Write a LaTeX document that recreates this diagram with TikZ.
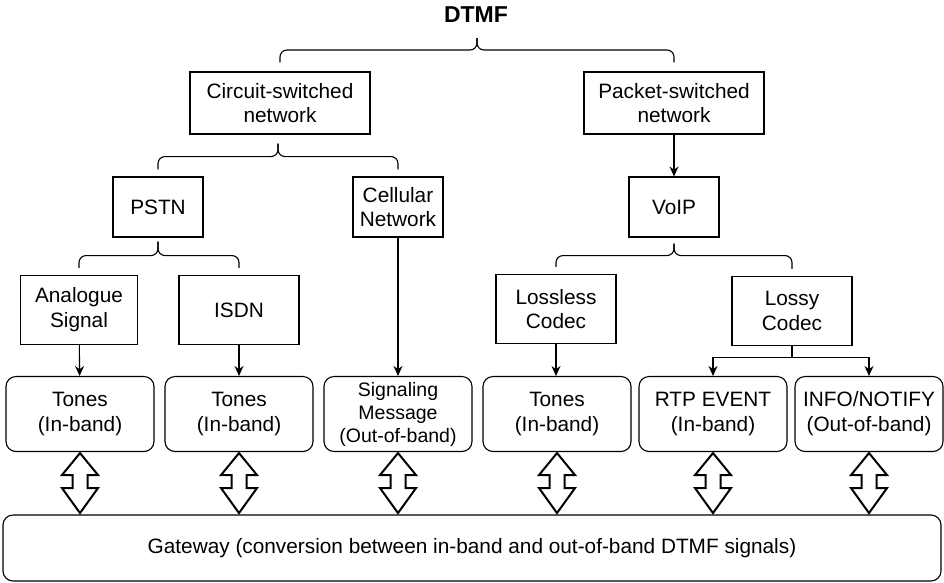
\documentclass[tikz,border=0pt]{standalone}
\usepackage{fontspec}
\setmainfont{Liberation Sans}
\usetikzlibrary{arrows.meta,calc}
\tikzset{
  box/.style={draw, line width=1.1pt, align=center, inner sep=0pt,
    font=\fontsize{20.8}{24.8}\selectfont},
  rbox/.style={box, rounded corners=10pt, minimum width=148pt, minimum height=75pt},
  arr/.style={line width=1.1pt, -{Stealth[length=10pt,width=9pt]}},
  brace/.style={line width=1.1pt, rounded corners=7pt},
  dbl/.style={line width=2pt, line join=miter, fill=white},
  dblarrow/.pic={\draw[dbl] (0,1) -- (18,23) -- (7.5,23) -- (7.5,36) -- (18,36) -- (0,61)
     -- (-18,36) -- (-7.5,36) -- (-7.5,23) -- (-18,23) -- cycle;}
}
\begin{document}
\begin{tikzpicture}[x=1pt,y=-1pt]
\useasboundingbox (0,0) rectangle (944,582);
% title
\node[font=\fontsize{23}{27}\selectfont\bfseries] (dtmf) at (476,15) {DTMF};
% level 1
\node[box, minimum width=180pt, minimum height=62pt] (circ) at (280,103) {Circuit-switched\\network};
\node[box, minimum width=180pt, minimum height=62pt] (pack) at (674,103) {Packet-switched\\network};
% level 2
\node[box, minimum width=90pt, minimum height=60pt] (pstn) at (158,207) {PSTN};
\node[box, minimum width=90pt, minimum height=60pt] (cell) at (398,207) {Cellular\\Network};
\node[box, minimum width=90pt, minimum height=60pt] (voip) at (674,207) {VoIP};
% level 3
\node[box, minimum width=117pt, minimum height=69pt] (anal) at (79,310) {Analogue\\Signal};
\node[box, minimum width=120pt, minimum height=69pt] (isdn) at (239,310) {ISDN};
\node[box, minimum width=120pt, minimum height=69pt] (lossless) at (556,309) {Lossless\\Codec};
\node[box, minimum width=120pt, minimum height=69pt] (lossy) at (792,311) {Lossy\\Codec};
% level 4
\node[rbox] (t1) at (80,414) {Tones\\(In-band)};
\node[rbox] (t2) at (239,414) {Tones\\(In-band)};
\node[rbox, font=\fontsize{19.5}{23}\selectfont] (sig) at (398,414) {Signaling\\Message\\(Out-of-band)};
\node[rbox] (t3) at (557,414) {Tones\\(In-band)};
\node[rbox] (rtp) at (713,414) {RTP EVENT\\(In-band)};
\node[rbox] (info) at (869,414) {INFO/NOTIFY\\(Out-of-band)};
% gateway
\node[box, rounded corners=10pt, minimum width=938pt, minimum height=66pt] (gw) at (472,548)
  {Gateway (conversion between in-band and out-of-band DTMF signals)};
% braces
\coordinate (tb) at (477,50);
\coordinate (tt) at (477,38);
\draw[brace] ([yshift=9pt]circ.north) |- (tb) -- (tt);
\draw[brace] ([yshift=9pt]pack.north) |- (tb) -- (tt);
\draw[brace] ([yshift=7pt]pstn.north) |- ($(circ.south)+(-2,22)$) -- ($(circ.south)+(-2,9)$);
\draw[brace] ([yshift=7pt]cell.north) |- ($(circ.south)+(-2,22)$) -- ($(circ.south)+(-2,9)$);
\draw[brace] ([yshift=7pt]anal.north) |- ($(pstn.south)+(0,18)$) -- ($(pstn.south)+(0,4)$);
\draw[brace] ([yshift=7pt]isdn.north) |- ($(pstn.south)+(0,18)$) -- ($(pstn.south)+(0,4)$);
\draw[brace] ([yshift=7pt]lossless.north) |- ($(voip.south)+(0,18)$) -- ($(voip.south)+(0,6)$);
\draw[brace] ([yshift=7pt]lossy.north) |- ($(voip.south)+(0,18)$) -- ($(voip.south)+(0,6)$);
% arrows
\draw[arr] (pack) -- (voip);
\draw[arr] (anal) -- (t1);
\draw[arr] (isdn) -- (t2);
\draw[arr] (cell) -- (sig);
\draw[arr] (lossless.south) -- (lossless.south |- t3.north);
\draw[arr] (lossy.south) -- ++(0,11) -| (rtp.north);
\draw[arr] (lossy.south) -- ++(0,11) -| (info.north);
% double arrows
\foreach \n in {t1,t2,sig,t3,rtp,info}{
  \pic at (\n.south) {dblarrow};
}
\end{tikzpicture}
\end{document}
